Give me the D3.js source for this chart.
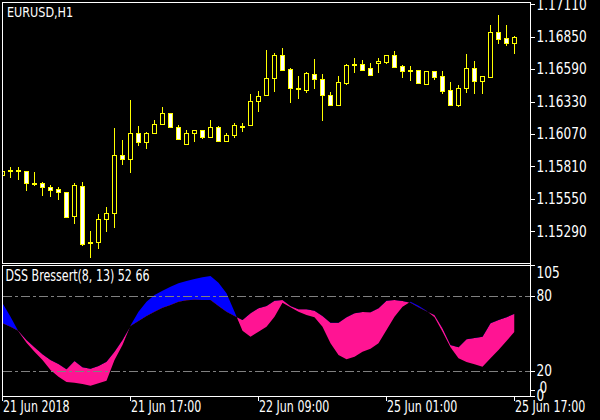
<!DOCTYPE html>
<html><head><meta charset="utf-8">
<script src="https://cdn.jsdelivr.net/npm/d3@7"></script>
<style>html,body{margin:0;padding:0;background:#000;} svg{display:block;}</style>
</head><body>
<svg id="c" width="600" height="420"></svg>
<script>
// ---------- data ----------
const symbolTitle = "EURUSD,H1";
const indicatorTitle = "DSS Bressert(8, 13) 52 66";
const open = [1.15736,1.15778,1.15776,1.15772,1.15676,1.15676,1.15644,1.15628,1.15604,1.15406,
1.15649,1.15200,1.15197,1.15381,1.15430,1.15901,1.15863,1.16077,1.15999,1.16072,
1.16144,1.16238,1.16125,1.15987,1.16072,1.16099,1.16043,1.16125,1.16011,1.16056,
1.16128,1.16136,1.16328,1.16377,1.16513,1.16703,1.16591,1.16436,1.16422,1.16548,
1.16508,1.16382,1.16296,1.16478,1.16629,1.16631,1.16599,1.16633,1.16647,1.16703,
1.16615,1.16577,1.16575,1.16470,1.16567,1.16527,1.16422,1.16302,1.16438,1.16599,
1.16494,1.16519,1.16880,1.16832,1.16799];
const high = [1.15780,1.15804,1.15804,1.15772,1.15764,1.15682,1.15658,1.15644,1.15608,1.15676,
1.15684,1.15291,1.15427,1.15486,1.16117,1.16021,1.16342,1.16133,1.16085,1.16182,
1.16286,1.16242,1.16139,1.16101,1.16099,1.16101,1.16182,1.16133,1.16075,1.16155,
1.16155,1.16390,1.16414,1.16743,1.16722,1.16759,1.16601,1.16537,1.16567,1.16671,
1.16551,1.16406,1.16535,1.16633,1.16679,1.16663,1.16639,1.16679,1.16703,1.16735,
1.16623,1.16615,1.16583,1.16571,1.16575,1.16575,1.16486,1.16462,1.16711,1.16655,
1.16527,1.16944,1.17024,1.16944,1.16856];
const low = [1.15732,1.15718,1.15700,1.15614,1.15652,1.15572,1.15564,1.15540,1.15395,1.15347,
1.15170,1.15076,1.15146,1.15285,1.15317,1.15820,1.15754,1.15975,1.15951,1.16067,
1.16144,1.16117,1.16021,1.15985,1.16007,1.16031,1.16043,1.16007,1.16011,1.16040,
1.16088,1.16136,1.16248,1.16377,1.16409,1.16575,1.16320,1.16350,1.16401,1.16433,
1.16174,1.16296,1.16296,1.16463,1.16561,1.16575,1.16535,1.16559,1.16633,1.16599,
1.16519,1.16494,1.16470,1.16462,1.16503,1.16390,1.16294,1.16286,1.16398,1.16390,
1.16390,1.16519,1.16791,1.16775,1.16711];
const close = [1.15772,1.15770,1.15768,1.15670,1.15670,1.15638,1.15620,1.15598,1.15403,1.15658,
1.15186,1.15194,1.15387,1.15435,1.15898,1.15863,1.16077,1.15999,1.16077,1.16149,
1.16238,1.16120,1.16025,1.16075,1.16099,1.16040,1.16123,1.16011,1.16059,1.16141,
1.16123,1.16334,1.16372,1.16516,1.16703,1.16583,1.16433,1.16430,1.16551,1.16505,
1.16377,1.16296,1.16484,1.16623,1.16623,1.16583,1.16535,1.16655,1.16703,1.16607,
1.16567,1.16573,1.16473,1.16567,1.16519,1.16414,1.16302,1.16438,1.16599,1.16494,
1.16527,1.16880,1.16824,1.16799,1.16840];
const dss = [74.2,63.4,51.6,42.6,35.4,28.8,20.8,15.4,11.2,10.6,
9.6,8.2,10.2,12.2,28.8,40.8,56.4,67.4,75.4,80.8,
84.2,87.4,90.2,92,93.6,95,96,90.6,82.2,67.4,
52.2,47.4,51.4,55.4,63.4,74.6,71,67.4,64.8,63,
55.4,42.2,32.8,29.4,31.4,35.4,37.8,42.2,52.8,63.4,
71.4,75.4,72.2,68.2,63,51.4,39,30.2,27.2,25.4,
23.4,30.2,36.8,44,51.4];
const signal = [58.2,55.4,52,44.8,39,33.4,28.8,25.6,21.4,28,
23,21.8,24,27.4,35.4,44.8,56,60,64,67.4,
70.6,72.8,75.4,76.6,77,76.8,76.8,72,67.4,64,
60.8,66.2,70.2,72,76.2,76.8,72,69.4,69.4,68.2,
64,58.6,58.6,63,66.2,67.2,67,70.2,76.2,76.8,
76,74.6,71,67.8,64.8,54.2,40.8,39,45.4,46.4,
47.4,58.2,60.8,63,65.8];
const priceTicks = [1.17110,1.16850,1.16590,1.16330,1.16070,1.15810,1.15550,1.15290];
const levelValues = [80,20];
const indTicks = [105,80,20,0];
const timeTickBars = [0,16,32,48,64];
const timeTickLabels = ["21 Jun 2018","21 Jun 17:00","22 Jun 09:00","25 Jun 01:00","25 Jun 17:00"];

// ---------- drawing ----------
const FONT = '"Liberation Sans Narrow","DejaVu Sans Condensed","Arial Narrow",sans-serif';
const svg = d3.select("#c");
svg.append("rect").attr("width",600).attr("height",420).attr("fill","#000");

const x = d3.scaleLinear().domain([0,64]).range([2.5,514.5]);
const y = d3.scaleLinear().domain([1.15290,1.17110]).range([231.2,4.3]);
const yi = d3.scaleLinear().domain([0,105]).range([396,264.75]);

const defs = svg.append("defs");
defs.append("clipPath").attr("id","clipMain").append("rect").attr("x",3).attr("y",3).attr("width",527).attr("height",260);
defs.append("clipPath").attr("id","clipInd").append("rect").attr("x",3).attr("y",266).attr("width",527).attr("height",130);
const idx = d3.range(open.length);

const upper = d3.area().x(i=>x(i)).y0(250).y1(i=>yi(signal[i]));
const lower = d3.area().x(i=>x(i)).y0(i=>yi(signal[i])).y1(410);
defs.append("clipPath").attr("id","clipAbove").append("path").attr("d",upper(idx));
defs.append("clipPath").attr("id","clipBelow").append("path").attr("d",lower(idx));

// candles
const gm = svg.append("g").attr("clip-path","url(#clipMain)").attr("shape-rendering","crispEdges");
gm.selectAll("line.wick").data(idx).join("line").attr("class","wick")
  .attr("x1",i=>x(i)).attr("x2",i=>x(i))
  .attr("y1",i=>y(high[i])).attr("y2",i=>y(low[i]))
  .attr("stroke","#ffff00").attr("stroke-width",1);
gm.selectAll("rect.body").data(idx).join("rect").attr("class","body")
  .attr("x",i=>x(i)-2).attr("width",4)
  .attr("y",i=>Math.min(y(open[i]),y(close[i])))
  .attr("height",i=>Math.max(1,Math.abs(y(open[i])-y(close[i]))))
  .attr("fill",i=>close[i]>=open[i]?"#000":"#fff")
  .attr("stroke","#ffff00").attr("stroke-width",1);

// indicator band
const gi = svg.append("g").attr("clip-path","url(#clipInd)");
const band = d3.area().x(i=>x(i)).y0(i=>yi(signal[i])).y1(i=>yi(dss[i]));
gi.append("g").attr("clip-path","url(#clipAbove)").append("path").attr("d",band(idx)).attr("fill","#0000ff");
gi.append("g").attr("clip-path","url(#clipBelow)").append("path").attr("d",band(idx)).attr("fill","#ff1493");
gi.selectAll("line.level").data(levelValues).join("line").attr("class","level")
  .attr("x1",3).attr("x2",530).attr("y1",d=>Math.round(yi(d))+0.5).attr("y2",d=>Math.round(yi(d))+0.5)
  .attr("stroke","#808080").attr("stroke-width",1).attr("stroke-dasharray","9,3,3,3")
  .attr("shape-rendering","crispEdges");

// frames
const fr = svg.append("g").attr("stroke","#fff").attr("stroke-width",1).attr("shape-rendering","crispEdges");
[[2,2.5,530,2.5],[2.5,2,2.5,264],[2,263.5,530,263.5],[2,265.5,530,265.5],[2.5,265,2.5,397],[2,396.5,531,396.5],[530.5,2,530.5,397]]
  .forEach(d=>fr.append("line").attr("x1",d[0]).attr("y1",d[1]).attr("x2",d[2]).attr("y2",d[3]));

// price axis
const pa = svg.append("g").attr("transform","translate(530.5,0)")
  .call(d3.axisRight(y).tickValues(priceTicks).tickFormat(d3.format(".5f")).tickSize(4).tickPadding(2));
// indicator axis
const ia = svg.append("g").attr("transform","translate(530.5,0)")
  .call(d3.axisRight(yi).tickValues(indTicks).tickFormat(d3.format("d")).tickSize(4).tickPadding(2));
ia.selectAll(".tick").filter(d=>d===105).select("text").attr("dy","0.32em").attr("y",7.5);
ia.selectAll(".tick").filter(d=>d===0).select("text").attr("dy","0.32em");
ia.append("text").attr("x",9).attr("y",yi(0)-7.5).attr("dy","0.32em").text("0");
ia.append("line").attr("x1",0).attr("x2",4).attr("y1",yi(0)-6).attr("y2",yi(0)-6);
// time axis
const ta = svg.append("g").attr("transform","translate(-0.5,396.5)")
  .call(d3.axisBottom(x).tickValues(timeTickBars).tickFormat((d,i)=>timeTickLabels[i]).tickSize(4).tickPadding(0));
ta.selectAll("text").attr("text-anchor","start").attr("dy","0").attr("y",15.5).attr("x",0.5);

[pa,ia,ta].forEach(a=>{
  a.select(".domain").remove();
  a.selectAll("line").attr("stroke","#fff").attr("shape-rendering","crispEdges");
  a.selectAll("text").attr("fill","#fff").style("font-family",FONT).style("font-size","15px");
});

// titles
const t1 = svg.append("text").attr("x",7).attr("y",16.5).attr("fill","#fff").style("font-family",FONT).style("font-size","14px").text(symbolTitle);
const t2 = svg.append("text").attr("x",5.5).attr("y",280.5).attr("fill","#fff").style("font-family",FONT).style("font-size","15px").text(indicatorTitle);

// narrow the glyphs like the terminal's bitmap font
function squeeze(sel, k){
  sel.each(function(){
    const w = this.getComputedTextLength();
    d3.select(this).attr("textLength", (w*k).toFixed(1)).attr("lengthAdjust","spacingAndGlyphs");
  });
}
squeeze(pa.selectAll("text"), 0.9);
squeeze(ia.selectAll("text"), 0.9);
squeeze(ta.selectAll("text"), 0.82);
squeeze(t1, 0.89);
squeeze(t2, 0.82);
</script>
</body></html>
